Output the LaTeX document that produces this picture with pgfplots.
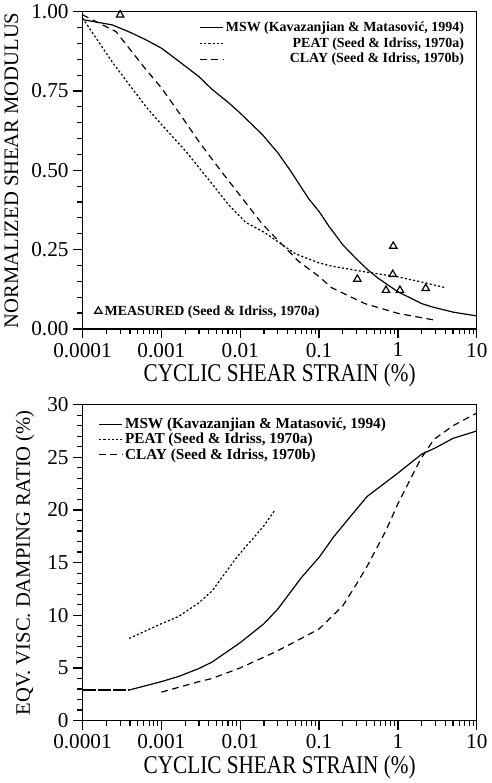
\documentclass[border=0pt]{standalone}
\usepackage{fontspec}
\setmainfont{Liberation Serif}
\usepackage{graphicx}
\usepackage{pgfplots}
\pgfplotsset{compat=1.18}
\begin{document}
\begin{tikzpicture}
\begin{axis}[scale only axis, width=297pt, name=top, height=239pt,
  axis on top, clip=false,
  xmode=log, xmin=1e-4, xmax=10,
  xtick={1e-4,1e-3,1e-2,1e-1,1,10},
  xticklabels={0.0001,0.001,0.01,0.1,1,10},
  minor xtick={2e-4,3e-4,4e-4,5e-4,6e-4,7e-4,8e-4,9e-4,2e-3,3e-3,4e-3,5e-3,6e-3,7e-3,8e-3,9e-3,2e-2,3e-2,4e-2,5e-2,6e-2,7e-2,8e-2,9e-2,0.2,0.3,0.4,0.5,0.6,0.7,0.8,0.9,2,3,4,5,6,7,8,9},
  tick align=outside, xtick pos=left, ytick pos=left,
  tickwidth=7pt, subtickwidth=4pt,
  xtick style={draw=black, line width=0.9pt},
  ytick style={draw=black, line width=0.9pt},
  axis line style={line width=1pt},
  tick label style={font=\fontsize{16}{18}\selectfont},
  xlabel={\scalebox{1}[1.2]{CYCLIC SHEAR STRAIN (\%)}},
  xlabel style={font=\fontsize{16}{18}\selectfont, yshift=2pt},
  ylabel style={font=\fontsize{15.5}{17}\selectfont, yshift=3pt},
  ymin=0, ymax=1,
  ytick={0,0.25,0.5,0.75,1}, minor ytick={0.05,0.1,0.15,0.2,0.3,0.35,0.4,0.45,0.55,0.6,0.65,0.7,0.8,0.85,0.9,0.95},
  yticklabels={0.00,0.25,0.50,0.75,1.00},
  ylabel={NORMALIZED SHEAR MODULUS},
  legend style={at={(rel axis cs:0.985,0.985)}, anchor=north east, draw=none, fill=none,
    font=\fontsize{10.5}{12.5}\selectfont\bfseries, row sep=-1pt},
  legend cell align=right,
]
\addplot[black, line width=0.9pt] coordinates {(1e-4,0.975)(2.4e-4,0.958)(4e-4,0.935)(6.4e-4,0.911)(1e-3,0.885)(1.68e-3,0.843)(3e-3,0.795)(4.4e-3,0.755)(7.2e-3,0.712)(1e-2,0.68)(1.9e-2,0.613)(3e-2,0.555)(4.3e-2,0.50)(7.4e-2,0.41)(0.1,0.37)(0.132,0.325)(0.2,0.265)(0.3,0.22)(0.42,0.185)(0.56,0.16)(1,0.117)(2,0.08)(2.66,0.07)(5,0.053)(10,0.041)};
\addlegendentry{MSW (Kavazanjian \& Matasović, 1994)}
\addplot[black, line width=0.9pt, dash pattern=on 1.6pt off 1.6pt] coordinates {(1e-4,0.98)(2.4e-4,0.84)(6.4e-4,0.70)(1e-3,0.645)(2.04e-3,0.56)(4.4e-3,0.457)(7.2e-3,0.39)(1.17e-2,0.336)(2e-2,0.305)(5e-2,0.237)(0.1,0.208)(0.144,0.198)(0.38,0.18)(1,0.164)(2,0.148)(4,0.13)};
\addlegendentry{PEAT (Seed \& Idriss, 1970a)}
\addplot[black, line width=0.9pt, dash pattern=on 5pt off 3.5pt] coordinates {(1e-4,0.99)(2.66e-4,0.937)(6.4e-4,0.817)(1e-3,0.76)(1.68e-3,0.681)(3e-3,0.59)(5.9e-3,0.493)(1e-2,0.42)(1.9e-2,0.331)(3e-2,0.28)(5.5e-2,0.213)(0.1,0.165)(0.144,0.13)(0.38,0.08)(1,0.049)(2.9,0.028)};
\addlegendentry{CLAY (Seed \& Idriss, 1970b)}
\addplot[only marks, mark=triangle, mark size=3.2pt, mark options={black, line width=0.9pt}, forget plot] coordinates {(3e-4,0.99)(0.306,0.157)(0.705,0.122)(0.86,0.172)(0.873,0.261)(1.06,0.122)(2.25,0.128)};
\end{axis}
\begin{axis}[scale only axis, width=297pt, height=239pt, at={(top.south west)}, anchor=south west,
  hide axis, xmin=0, xmax=1, ymin=0, ymax=1,
  legend style={at={(rel axis cs:0.02,0.02)}, anchor=south west, draw=none, fill=none,
    font=\fontsize{10.5}{12.5}\selectfont\bfseries},
]
\addlegendimage{only marks, mark=triangle, mark size=3.2pt, mark options={black, line width=0.9pt}}
\addlegendentry{MEASURED (Seed \& Idriss, 1970a)}
\end{axis}
\begin{axis}[scale only axis, width=297pt, height=238pt, at={(top.south west)}, anchor=north west, yshift=-57pt,
  axis on top, clip=false,
  xmode=log, xmin=1e-4, xmax=10,
  xtick={1e-4,1e-3,1e-2,1e-1,1,10},
  xticklabels={0.0001,0.001,0.01,0.1,1,10},
  minor xtick={2e-4,3e-4,4e-4,5e-4,6e-4,7e-4,8e-4,9e-4,2e-3,3e-3,4e-3,5e-3,6e-3,7e-3,8e-3,9e-3,2e-2,3e-2,4e-2,5e-2,6e-2,7e-2,8e-2,9e-2,0.2,0.3,0.4,0.5,0.6,0.7,0.8,0.9,2,3,4,5,6,7,8,9},
  tick align=outside, xtick pos=left, ytick pos=left,
  tickwidth=7pt, subtickwidth=4pt,
  xtick style={draw=black, line width=0.9pt},
  ytick style={draw=black, line width=0.9pt},
  axis line style={line width=1pt},
  tick label style={font=\fontsize{16}{18}\selectfont},
  xlabel={\scalebox{1}[1.2]{CYCLIC SHEAR STRAIN (\%)}},
  xlabel style={font=\fontsize{16}{18}\selectfont, yshift=2pt},
  ylabel style={font=\fontsize{15.5}{17}\selectfont, yshift=3pt},
  ymin=0, ymax=30,
  ytick={0,5,10,15,20,25,30}, minor ytick={1,2,3,4,6,7,8,9,11,12,13,14,16,17,18,19,21,22,23,24,26,27,28,29},
  yticklabels={0,5,10,15,20,25,30},
  ylabel={EQV. VISC. DAMPING RATIO (\%)},
  legend style={at={(rel axis cs:0.03,0.975)}, anchor=north west, draw=none, fill=none,
    font=\fontsize{11.5}{13}\selectfont\bfseries, row sep=-2pt},
  legend cell align=left,
]
\addplot[black, line width=0.9pt] coordinates {(3.9e-4,2.9)(1e-3,3.7)(1.67e-3,4.2)(3e-3,4.95)(4.38e-3,5.55)(1e-2,7.4)(2e-2,9.2)(3e-2,10.6)(6e-2,13.6)(0.1,15.5)(0.155,17.5)(0.3,20.1)(0.41,21.3)(1,23.5)(2,25.3)(3,25.9)(5,26.8)(10,27.5)};
\addlegendentry{MSW (Kavazanjian \& Matasović, 1994)}
\addplot[black, line width=0.9pt, dash pattern=on 1.6pt off 1.6pt] coordinates {(3.9e-4,7.8)(1e-3,9.2)(1.67e-3,9.9)(3e-3,11.2)(4.38e-3,12.3)(8.63e-3,15.3)(1e-2,15.9)(2e-2,18.5)(2.76e-2,20.0)};
\addlegendentry{PEAT (Seed \& Idriss, 1970a)}
\addplot[black, line width=0.9pt, dash pattern=on 5pt off 3.5pt] coordinates {(1e-3,2.7)(3e-3,3.7)(4.4e-3,4.0)(1e-2,5.0)(2.75e-2,6.5)(5e-2,7.5)(0.1,8.7)(0.2,10.9)(0.3,13.0)(0.41,14.7)(0.7,18)(1,20.6)(1.93,24.8)(2.86,26.7)(5,28)(10,29.2)};
\addlegendentry{CLAY (Seed \& Idriss, 1970b)}
\addplot[black, line width=0.9pt, dash pattern=on 10pt off 1.5pt, forget plot] coordinates {(1e-4,2.9)(3.9e-4,2.9)};
\end{axis}
\end{tikzpicture}
\end{document}
